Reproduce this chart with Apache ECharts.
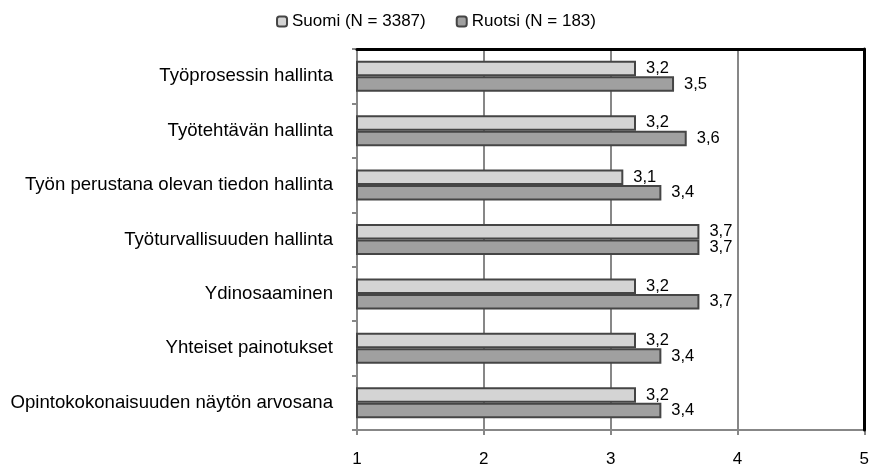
<!DOCTYPE html>
<html>
<head>
<meta charset="utf-8">
<script src="https://cdn.jsdelivr.net/npm/echarts@6/dist/echarts.min.js"></script>
<style>
  html, body { margin: 0; padding: 0; background: #fff; }
  #chart { width: 872px; height: 470px; }
</style>
</head>
<body>
<div id="chart"></div>
<script>
// categories top to bottom
var categories = [
  'Työprosessin hallinta',
  'Työtehtävän hallinta',
  'Työn perustana olevan tiedon hallinta',
  'Työturvallisuuden hallinta',
  'Ydinosaaminen',
  'Yhteiset painotukset',
  'Opintokokonaisuuden näytön arvosana'
];
var suomiValues = [3.2, 3.2, 3.1, 3.7, 3.2, 3.2, 3.2];
var ruotsiValues = [3.5, 3.6, 3.4, 3.7, 3.7, 3.4, 3.4];
var seriesNames = ['Suomi (N = 3387)', 'Ruotsi (N = 183)'];
var xTicks = [1, 2, 3, 4, 5];

var chart = echarts.init(document.getElementById('chart'));
var font = '"Liberation Sans", Arial, sans-serif';

function commaLabel(p) {
  return String(p.value).replace('.', ',');
}

function barSeries(name, values, fill) {
  return {
    name: name,
    type: 'bar',
    data: values,
    barWidth: 15.5,
    barGap: '0%',
    itemStyle: { color: fill, borderColor: '#454545', borderWidth: 2 },
    label: {
      show: true,
      position: 'right',
      distance: 10,
      formatter: commaLabel,
      color: '#000',
      fontSize: 16.5,
      fontFamily: font
    }
  };
}

var option = {
  animation: false,
  backgroundColor: '#fff',
  textStyle: { fontFamily: font },
  legend: {
    top: 8,
    left: 'center',
    itemWidth: 10,
    itemHeight: 10,
    itemGap: 30,
    textStyle: { fontSize: 17, color: '#000', fontFamily: font },
    data: seriesNames
  },
  grid: {
    left: 357,
    right: 7,
    top: 49,
    bottom: 40,
    containLabel: false
  },
  xAxis: [{
    type: 'value',
    min: xTicks[0],
    max: xTicks[xTicks.length - 1],
    interval: 1,
    axisLine: { show: true, lineStyle: { color: '#878787', width: 2 } },
    axisTick: { show: true, length: 5, lineStyle: { color: '#878787', width: 2 } },
    axisLabel: { color: '#000', fontSize: 17, margin: 21, fontFamily: font },
    splitLine: { show: true, lineStyle: { color: '#878787', width: 2 } }
  }, {
    type: 'value',
    position: 'top',
    min: 1,
    max: 5,
    z: 5,
    axisLine: { show: true, lineStyle: { color: '#000', width: 3 } },
    axisTick: { show: false },
    axisLabel: { show: false },
    splitLine: { show: false }
  }],
  yAxis: [{
    type: 'category',
    inverse: true,
    data: categories,
    axisLine: { show: true, lineStyle: { color: '#878787', width: 2 } },
    axisTick: { show: true, length: 5, lineStyle: { color: '#878787', width: 2 } },
    axisLabel: { color: '#000', fontSize: 18.6, margin: 24, fontFamily: font }
  }, {
    type: 'category',
    position: 'right',
    inverse: true,
    data: categories,
    z: 5,
    axisLine: { show: true, lineStyle: { color: '#000', width: 3 } },
    axisTick: { show: false },
    axisLabel: { show: false }
  }],
  series: [
    barSeries(seriesNames[0], suomiValues, '#d4d4d4'),
    barSeries(seriesNames[1], ruotsiValues, '#a0a0a0')
  ]
};

chart.setOption(option);
</script>
</body>
</html>
